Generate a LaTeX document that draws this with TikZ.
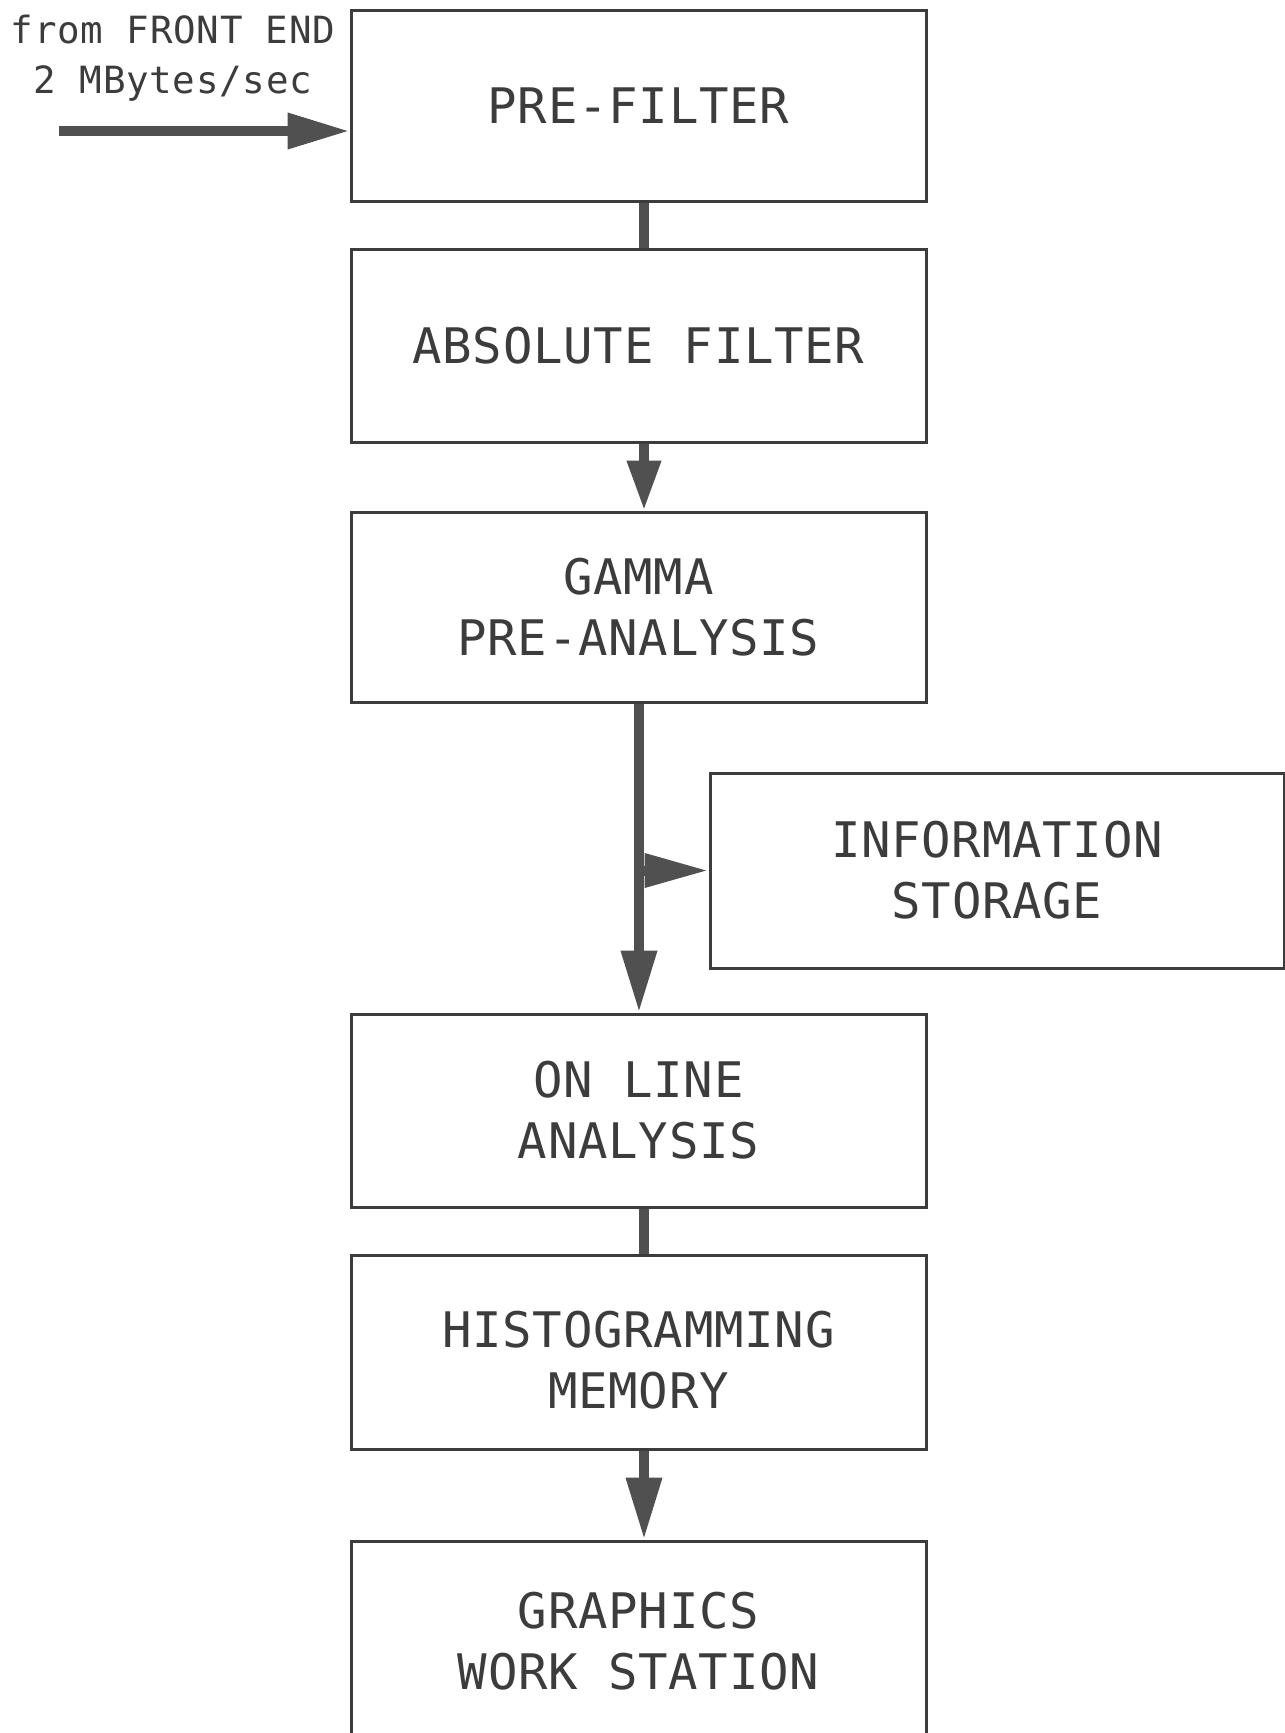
\documentclass[tikz,border=0pt]{standalone}
\usepackage{fontspec}
\setmainfont{DejaVu Sans Mono}
\newfontfamily\boxfont{DejaVu Sans Mono}[LetterSpace=1.5]
\newfontfamily\lblfont{DejaVu Sans Mono}[LetterSpace=2]
\usetikzlibrary{arrows.meta}
\definecolor{ink}{HTML}{3C3C3C}
\definecolor{arr}{HTML}{505050}
\begin{document}
\begin{tikzpicture}[x=1pt,y=-1pt,
  blk/.style={draw=ink,line width=3pt,rectangle,inner sep=0pt,
    minimum width=575pt,align=center,text=ink,
    font=\boxfont\fontsize{49}{61}\selectfont},
  conn/.style={draw=arr,line width=10pt},
  harrow/.style={conn,-{Triangle[length=62pt,width=34pt]},arr},
  lbl/.style={text=ink,font=\lblfont\fontsize{37.5}{50}\selectfont,align=center,inner sep=0pt}
]
\useasboundingbox (0,0) rectangle (1285,1733);
\fill[white] (0,0) rectangle (1285,1733);

\node[blk,minimum height=191pt] (PF)  at (638.5,105.5) {PRE-FILTER};
\node[blk,minimum height=193pt] (AF)  at (638.5,345.5) {ABSOLUTE FILTER};
\node[blk,minimum height=190pt] (GPA) at (638.5,607) {GAMMA\\PRE-ANALYSIS};
\node[blk,minimum height=195pt,minimum width=574pt] (IS) at (997,870.5) {INFORMATION\\STORAGE};
\node[blk,minimum height=193pt] (OLA) at (638.5,1110.5) {ON LINE\\ANALYSIS};
\node[blk,minimum height=194pt] (HM)  at (638.5,1352) {\rule{0pt}{52pt}HISTOGRAMMING\\MEMORY};
\node[blk,minimum height=200pt] (GWS) at (638.5,1641) {GRAPHICS\\WORK STATION};

\node[lbl] (L) at (173,58) {from FRONT END\\2 MBytes/sec};
\coordinate (in) at (59,131);

\draw[harrow] (in) -- (in -| PF.west);
\draw[conn] ([xshift=5.5pt]PF.south) -- ([xshift=5.5pt]AF.north);
\draw[harrow,-{Triangle[length=50pt,width=32pt]}] ([xshift=5.5pt]AF.south) -- ([xshift=5.5pt]AF.south |- GPA.north);
\draw[harrow] ([xshift=0.5pt]GPA.south) -- ([xshift=0.5pt]GPA.south |- OLA.north);
\coordinate (br) at ([xshift=4.5pt]GPA.south |- IS.west);
\draw[harrow,-{Triangle[length=64pt,width=32pt]}] (br) -- (IS.west);
\draw[conn] ([xshift=5.5pt]OLA.south) -- ([xshift=5.5pt]HM.north);
\draw[harrow] ([xshift=5.5pt]HM.south) -- ([xshift=5.5pt]HM.south |- GWS.north);
\end{tikzpicture}
\end{document}
